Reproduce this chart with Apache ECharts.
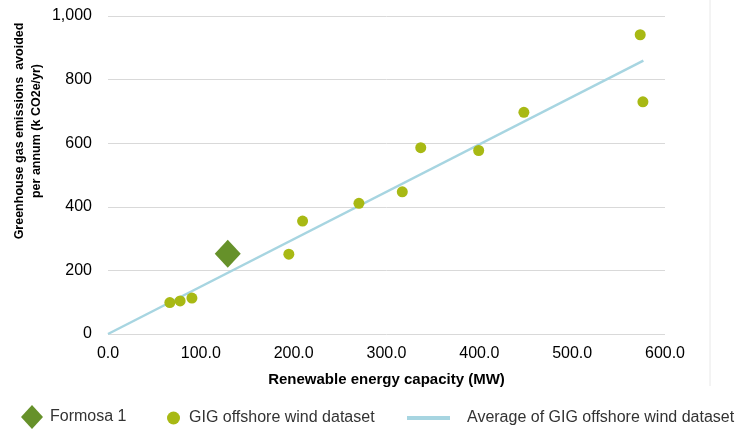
<!DOCTYPE html>
<html>
<head>
<meta charset="utf-8">
<script src="https://cdn.jsdelivr.net/npm/echarts@6/dist/echarts.min.js"></script>
<style>html,body{margin:0;padding:0;background:#fff}#c{width:744px;height:430px}</style>
</head>
<body>
<div id="c"></div>
<script>
var formosaData = [[129, 252]];
var gigData = [[66.6, 99], [77.7, 104], [90.4, 113], [194.8, 251], [209.6, 355], [270.3, 411], [317, 447], [336.9, 586], [399.3, 577], [448, 697], [573.3, 941], [576.2, 730]];
var avgLine = [[0, 0], [576.7, 860]];
var seriesNames = ['Formosa 1', 'GIG offshore wind dataset', 'Average of GIG offshore wind dataset'];
var xTitle = 'Renewable energy capacity (MW)';
var yTitle = 'Greenhouse gas emissions  avoided\nper annum (k CO2e/yr)';

var chart = echarts.init(document.getElementById('c'), null, {renderer: 'canvas'});
var font = 'Liberation Sans, Arial, sans-serif';
function lt(pl) { return {fontFamily: font, fontSize: 16, color: '#333', padding: [0, 0, 0, pl]}; }
chart.setOption({
  animation: false,
  grid: {left: 108, right: 79, top: 16, bottom: 96, containLabel: false, outerBoundsMode: 'none'},
  xAxis: {
    type: 'value', min: 0, max: 600, interval: 100,
    name: xTitle, nameLocation: 'middle', nameGap: 38,
    nameTextStyle: {fontFamily: font, fontSize: 15, fontWeight: 'bold', color: '#000'},
    axisLine: {show: false}, axisTick: {show: false},
    splitLine: {show: false},
    axisLabel: {fontFamily: font, fontSize: 16, color: '#000', margin: 12,
      formatter: function (v) { return v.toFixed(1); }}
  },
  yAxis: {
    type: 'value', min: 0, max: 1000, interval: 200,
    axisLine: {show: false}, axisTick: {show: false},
    splitLine: {lineStyle: {color: '#D9D9D9', width: 1}},
    axisLabel: {fontFamily: font, fontSize: 16, color: '#000', margin: 16,
      formatter: function (v) { return v.toLocaleString('en-US'); }}
  },
  legend: [
    {left: 16, top: 400, itemWidth: 22, itemHeight: 24, textStyle: lt(2),
      data: [{name: seriesNames[0], icon: 'diamond'}]},
    {left: 162, top: 405, itemWidth: 13, itemHeight: 24, textStyle: lt(4),
      data: [{name: seriesNames[1], icon: 'circle'}]},
    {left: 402, top: 405, itemWidth: 43, itemHeight: 24, textStyle: lt(12),
      data: [{name: seriesNames[2], icon: 'path://M0,10 L44,10 L44,14 L0,14 Z'}]}
  ],
  graphic: [
    {type: 'line', shape: {x1: 710, y1: 0, x2: 710, y2: 386}, style: {stroke: '#E8E8E8', lineWidth: 1}},
    {type: 'text', x: 28, y: 131, rotation: Math.PI / 2,
      style: {text: yTitle, fontFamily: font, fontSize: 12.5, fontWeight: 'bold', fill: '#000',
        align: 'center', verticalAlign: 'middle', lineHeight: 17}}
  ],
  series: [
    {name: seriesNames[2], type: 'line', data: avgLine, symbol: 'none',
      lineStyle: {color: '#A7D5E1', width: 2.5}, itemStyle: {color: '#A7D5E1'}, z: 1},
    {name: seriesNames[1], type: 'scatter', data: gigData, symbol: 'circle', symbolSize: 11,
      itemStyle: {color: '#A8B914', opacity: 1}, z: 3},
    {name: seriesNames[0], type: 'scatter', data: formosaData, symbol: 'diamond', symbolSize: [26, 28],
      itemStyle: {color: '#66912A', opacity: 1}, z: 4}
  ]
});
</script>
</body>
</html>
